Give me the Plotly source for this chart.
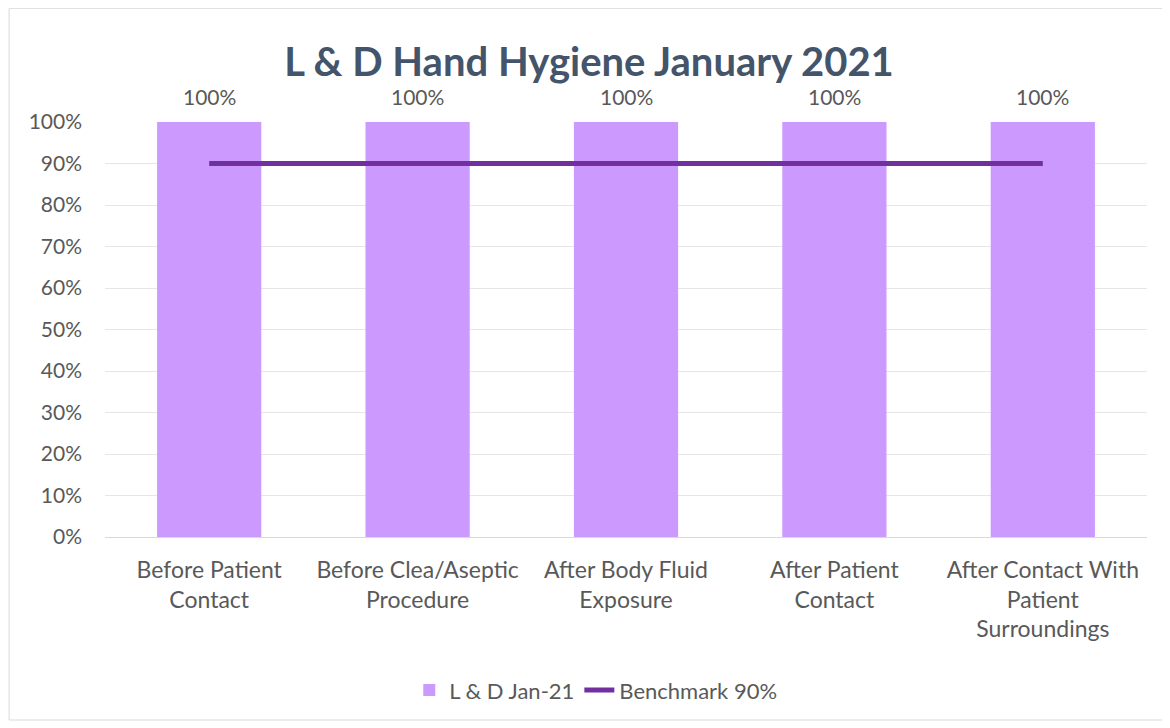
import plotly.graph_objects as go

# ── Data ───────────────────────────────────────────────────────────────────────
categories = [
    "Before Patient<br>Contact",
    "Before Clea/Aseptic<br>Procedure",
    "After Body Fluid<br>Exposure",
    "After Patient<br>Contact",
    "After Contact With<br>Patient<br>Surroundings",
]
compliance = [1.0, 1.0, 1.0, 1.0, 1.0]
benchmark = [0.9, 0.9, 0.9, 0.9, 0.9]
y_ticks = [i / 10 for i in range(11)]

BAR_COLOR = "#CC99FF"
LINE_COLOR = "#7030A0"
TEXT_COLOR = "#595959"
FONT = "Lato"

fig = go.Figure()

fig.add_trace(go.Bar(
    x=categories, y=compliance,
    name="L & D Jan-21",
    marker=dict(color=BAR_COLOR, line=dict(width=0)),
    width=0.5,
))

fig.add_trace(go.Scatter(
    x=categories, y=benchmark,
    name="Benchmark 90%",
    mode="lines",
    line=dict(color=LINE_COLOR, width=5),
))

# data labels above the bars
for cat, val in zip(categories, compliance):
    fig.add_annotation(
        x=cat, y=val, text=f"{val:.0%}", showarrow=False,
        yanchor="middle", yshift=26,
        font=dict(family=FONT, size=21, color=TEXT_COLOR),
    )

# page body adds 8px offset, so the figure is 8px smaller than the window
fig.update_layout(
    width=1162, height=720,
    plot_bgcolor="white",
    paper_bgcolor="white",
    font=dict(family=FONT, size=16, color=TEXT_COLOR),
    title=dict(
        text="<b>L & D Hand Hygiene January 2021</b>",
        x=0.5, xanchor="center", y=0.925, yanchor="middle",
        font=dict(family=FONT, size=40, color="#44546A"),
    ),
    margin=dict(l=97, r=23, t=114, b=191),
    showlegend=True,
    legend=dict(
        orientation="h", x=0.471, xanchor="center", y=-0.369, yanchor="middle",
        font=dict(family=FONT, size=22, color=TEXT_COLOR),
    ),
    bargap=0.5,
    shapes=[dict(
        type="rect", xref="paper", yref="paper",
        x0=-0.092, x1=1.021, y0=-0.441, y1=1.274,
        line=dict(color="#D9D9D9", width=1), fillcolor="rgba(0,0,0,0)",
        layer="below",
    )],
)

fig.update_xaxes(
    showline=True, linecolor="#D9D9D9", linewidth=1,
    tickfont=dict(family=FONT, size=23, color=TEXT_COLOR),
    ticks="", ticklabelstandoff=12,
)
fig.update_yaxes(
    range=[0, 1], tickvals=y_ticks, tickformat=".0%",
    showgrid=True, gridcolor="#E6E6E6", gridwidth=1,
    zeroline=False,
    tickfont=dict(family=FONT, size=21, color=TEXT_COLOR),
    ticks="", ticklabelstandoff=22,
)

fig.write_html("out.html")
